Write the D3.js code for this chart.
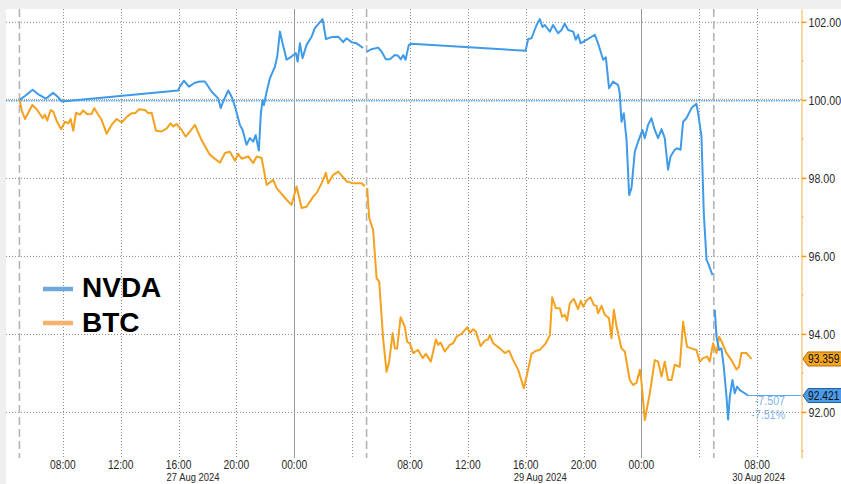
<!DOCTYPE html>
<html>
<head>
<meta charset="utf-8">
<script src="https://cdn.jsdelivr.net/npm/d3@7"></script>
<style>
  html, body { margin: 0; padding: 0; background: #efefef; overflow: hidden; }
  svg { display: block; }
</style>
</head>
<body>
<div id="chart"></div>
<script>
// Times are hours counted from 27 Aug 2024 00:00.
// The chart skips 28 Aug 05:00 -> 29 Aug 05:00, so hours 29 and 53 sit on the same x.
// A null value breaks the line.
var nvdaTimes = [5.00, 5.38, 5.91, 6.28, 6.83, 7.32, 7.59, 7.94, 15.96, 16.09, 16.37, 16.72, 17.13, 17.48, 17.82,
  18.29, 18.74, 18.91, 19.09, 19.43, 19.67, 19.90, 20.24, 20.43, 20.70, 20.93, 21.16, 21.33, 21.55, 21.69, 21.81, 21.90,
  22.09, 22.32, 22.66, 22.82, 23.01, 23.19, 23.47, 23.81, 24.11, 24.23, 24.39, 24.57, 24.85, 25.20, 25.42, 25.96,
  26.19, 26.58, 27.04, 27.38, 27.62, 27.96, 28.31, 28.76,
  29,
  53.02, 53.34, 53.80, 54.03, 54.33, 54.61, 54.95, 55.18, 55.37, 55.53, 55.69, 55.92, 56.11,
  63.99, 64.17, 64.40, 64.75, 64.97, 65.16, 65.32, 65.67, 65.89, 66.24, 66.47, 66.70, 66.93, 67.28, 67.46, 67.62, 67.79,
  68.20, 68.78, 69.00, 69.35, 69.54, 69.76, 70.04, 70.39, 70.50, 70.62, 70.78, 70.97, 71.15, 71.31, 71.54, 71.77,
  72.07, 72.23, 72.46, 72.69, 72.92, 73.15, 73.39, 73.61, 73.84, 74.01, 74.30, 74.46, 74.70,
  74.88, 75.11, 75.46, 75.80, 75.92, 76.15, 76.31, 76.50, 76.61, 76.91,
  77,
  77.07, 77.19, 77.37, 77.53, 77.69, 77.88, 77.99, 78.11, 78.29, 78.45, 78.61, 78.80, 79.14, 79.37];
var nvdaValues = [100.00, 100.10, 100.26, 100.15, 100.03, 100.18, 100.10, 99.96, 100.24, 100.34, 100.49, 100.34, 100.44, 100.47, 100.47,
  100.21, 100.04, 99.79, 99.96, 100.24, 100.08, 99.83, 99.36, 99.23, 98.85, 99.02, 98.93, 99.10, 98.70, 99.66, 100.00, 99.87,
  100.21, 100.56, 100.85, 101.11, 101.75, 101.45, 101.03, 101.11, 101.20, 100.98, 101.45, 101.07, 101.41, 101.62, 101.84, 102.07,
  101.56, 101.61, 101.62, 101.48, 101.58, 101.48, 101.45, 101.33,
  null,
  101.24, 101.30, 101.34, 101.24, 101.04, 101.04, 101.15, 101.13, 101.04, 101.15, 101.03, 101.41, 101.44,
  101.26, 101.56, 101.58, 101.92, 102.07, 101.87, 101.92, 101.75, 101.92, 101.71, 101.79, 101.95, 101.79, 101.75, 101.54, 101.67, 101.45,
  101.54, 101.67, 101.45, 101.03, 101.09, 100.30, 100.47, 100.38, 100.17, 99.44, 99.66, 98.97, 97.56, 97.74, 98.67, 98.93,
  99.23, 99.02, 99.36, 99.53, 99.23, 99.02, 99.25, 99.02, 98.21, 98.55, 98.72, 98.76, 98.72,
  99.44, 99.53, 99.79, 99.90, 99.66, 99.06, 97.09, 95.90, 95.81, 95.51,
  null,
  94.62, 93.93, 93.59, 93.63, 93.16, 92.39, 91.81, 92.39, 92.82, 92.48, 92.65, 92.56, 92.48, 92.421];

var btcTimes = [5.00, 5.15, 5.38, 5.89, 6.19, 6.61, 6.76, 6.92, 7.16, 7.34, 7.57, 7.89,
  8.15, 8.38, 8.54, 8.72, 8.91, 9.18, 9.41, 9.69, 9.99, 10.17, 10.41, 10.68,
  11.03, 11.37, 11.72, 12.07, 12.41, 12.76, 12.99, 13.28, 13.68, 13.90, 14.14, 14.44,
  14.83, 15.18, 15.45, 15.63, 15.87, 16.21, 16.49, 16.79, 17.13, 17.59, 18.17, 18.86,
  19.21, 19.55, 19.90, 20.12, 20.36, 20.82, 21.16, 21.40, 21.74, 22.09, 22.54, 22.78,
  23.47, 23.81, 24.16, 24.51, 24.85, 25.31, 25.54, 25.89, 26.19, 26.34, 26.69, 27.04,
  27.62, 28.07, 28.65, 28.88,
  29,
  53.04, 53.18, 53.45, 53.69, 53.87, 54.15, 54.38, 54.56, 54.80, 54.95, 55.11, 55.35,
  55.64, 55.80, 55.99, 56.22, 56.56, 56.87, 57.10, 57.44, 57.79, 57.95, 58.11, 58.41,
  58.75, 58.98, 59.22, 59.56, 59.95, 60.14, 60.37, 60.55, 60.88, 61.17, 61.40, 61.52,
  61.75, 62.21, 62.56, 62.85, 63.13, 63.48, 63.87, 64.06, 64.40, 64.70, 64.97, 65.39,
  65.67, 65.83, 66.08, 66.36, 66.52, 66.70, 66.86, 67.05, 67.32, 67.62, 67.81, 67.97,
  68.20, 68.48, 68.71, 68.89, 69.00, 69.24, 69.47, 69.76, 69.93, 70.09, 70.28, 70.62,
  70.85, 71.19, 71.42, 71.66, 71.89, 72.00, 72.23, 72.58, 72.92, 73.15, 73.39, 73.61,
  73.84, 74.08, 74.30, 74.65, 74.88, 75.15, 75.46, 75.80, 76.03, 76.26, 76.54, 76.72,
  76.95, 77.19, 77.37, 77.60, 77.88, 78.22, 78.57, 78.75, 78.91, 79.26, 79.61];
var btcValues = [100.02, 99.74, 99.51, 99.87, 99.76, 99.53, 99.62, 99.47, 99.74, 99.70, 99.46, 99.25,
  99.44, 99.40, 99.51, 99.21, 99.67, 99.62, 99.73, 99.63, 99.64, 99.79, 99.64, 99.49,
  99.13, 99.36, 99.51, 99.42, 99.56, 99.66, 99.66, 99.76, 99.74, 99.66, 99.67, 99.21,
  99.19, 99.27, 99.40, 99.32, 99.38, 99.23, 99.06, 99.19, 99.36, 98.97, 98.59, 98.39,
  98.64, 98.67, 98.44, 98.62, 98.49, 98.55, 98.38, 98.55, 98.51, 97.82, 97.95, 97.74,
  97.44, 97.31, 97.78, 97.23, 97.26, 97.52, 97.61, 97.86, 98.13, 97.86, 98.08, 98.16,
  97.91, 97.86, 97.86, 97.79,
  null,
  97.74, 96.97, 96.67, 95.43, 95.34, 93.85, 93.03, 93.29, 94.02, 93.63, 93.63, 94.43,
  94.19, 93.80, 93.76, 93.51, 93.59, 93.38, 93.49, 93.29, 93.86, 93.72, 93.78, 93.55,
  93.72, 93.76, 93.93, 94.00, 94.17, 94.03, 94.12, 94.06, 93.69, 93.83, 93.86, 93.97,
  93.76, 93.63, 93.51, 93.57, 93.33, 93.08, 92.61, 92.91, 93.49, 93.57, 93.59, 93.76,
  93.97, 94.94, 94.66, 94.66, 94.44, 94.49, 94.34, 94.79, 94.90, 94.64, 94.85, 94.70,
  94.85, 94.94, 94.74, 94.72, 94.53, 94.72, 94.49, 94.40, 93.89, 94.62, 94.19, 93.63,
  93.55, 92.82, 92.69, 92.75, 93.08, 92.78, 91.79, 92.48, 93.33, 93.29, 92.91, 93.29,
  92.82, 92.82, 93.21, 93.16, 94.31, 93.67, 93.63, 93.59, 93.29, 93.38, 93.42, 93.29,
  93.76, 93.51, 93.93, 93.76, 93.51, 93.33, 93.09, 93.16, 93.51, 93.51, 93.359];

var yTicks = [92, 94, 96, 98, 100, 102];
var yMinorTicks = [91, 93, 95, 97, 99, 101];
var gridHours = [8, 12, 16, 20, 28, 56, 60, 64, 68, 76, 80];   // dotted
var midnightHours = [24, 72];                                   // solid
var sessionHours = [5, 29, 77];                                 // dashed
var tickHours = [8, 12, 16, 20, 24, 56, 60, 64, 68, 72, 80];
var tickLabels = ["08:00", "12:00", "16:00", "20:00", "00:00", "08:00", "12:00", "16:00", "20:00", "00:00", "08:00"];
var dateHours = [17, 65, 80.1];
var dateLabels = ["27 Aug 2024", "29 Aug 2024", "30 Aug 2024"];
var seriesNames = ["NVDA", "BTC"];
var nvdaChange = ["-7.507", "-7.51%"];

var nvdaColor = "#3f9ae8", btcColor = "#f4a11f";
var nvdaLegend = "#6fa8dc", btcLegend = "#f6b26b";
var font = "'Liberation Sans', Arial, sans-serif";
var squeeze = 0.82;   // narrow look for the small labels

var width = 841, height = 484;
var plot = { left: 6, top: 9, right: 801, bottom: 458 };
var breakX = 366.6;

// piecewise scale: the skipped day collapses onto one x position
var x = d3.scaleLinear()
    .domain([4.07, 29, 53, 83.03])
    .range([plot.left, breakX, breakX, plot.right]);

var y = d3.scaleLinear()
    .domain([90.82, 102.33])
    .range([plot.bottom, plot.top]);

var svg = d3.select("#chart").append("svg")
    .attr("width", width)
    .attr("height", height);

// small squeezed label; anchor at (px, py)
function label(parent, px, py, txt, anchor, color, size) {
    return parent.append("text")
        .attr("transform", `translate(${px}, ${py}) scale(${squeeze}, 1)`)
        .attr("text-anchor", anchor)
        .attr("font-family", font)
        .attr("font-size", size || 13)
        .attr("fill", color || "#2a2a2a")
        .text(txt);
}

// white panel
svg.append("rect")
    .attr("x", plot.left).attr("y", plot.top)
    .attr("width", width - plot.left).attr("height", height - plot.top)
    .attr("fill", "#fff");

// horizontal grid
svg.append("g").selectAll("line")
    .data(yTicks.filter(d => d !== 100))
    .join("line")
    .attr("x1", plot.left).attr("x2", plot.right)
    .attr("y1", d => y(d) + 0.5).attr("y2", d => y(d) + 0.5)
    .attr("stroke", "#8c8c8c")
    .attr("stroke-dasharray", "1,2");

// 100 base line
svg.append("line")
    .attr("x1", plot.left).attr("x2", plot.right)
    .attr("y1", y(100) - 0.5).attr("y2", y(100) - 0.5)
    .attr("stroke", "#9a9a9a").attr("stroke-dasharray", "1,1");
svg.append("line")
    .attr("x1", plot.left).attr("x2", plot.right)
    .attr("y1", y(100) + 0.8).attr("y2", y(100) + 0.8)
    .attr("stroke", "#5aa6ea").attr("stroke-width", 1.4).attr("stroke-dasharray", "1.5,1");

// vertical grid
svg.append("g").selectAll("line")
    .data(gridHours)
    .join("line")
    .attr("x1", d => Math.round(x(d)) + 0.5).attr("x2", d => Math.round(x(d)) + 0.5)
    .attr("y1", plot.top).attr("y2", plot.bottom)
    .attr("stroke", "#8c8c8c")
    .attr("stroke-dasharray", "1,2");

svg.append("g").selectAll("line")
    .data(midnightHours)
    .join("line")
    .attr("x1", d => Math.round(x(d)) + 0.5).attr("x2", d => Math.round(x(d)) + 0.5)
    .attr("y1", plot.top).attr("y2", plot.bottom)
    .attr("stroke", "#9a9a9a");

svg.append("g").selectAll("line")
    .data(sessionHours)
    .join("line")
    .attr("x1", d => x(d)).attr("x2", d => x(d))
    .attr("y1", plot.top).attr("y2", plot.bottom)
    .attr("stroke", "#b4b4b4")
    .attr("stroke-width", 1.6)
    .attr("stroke-dasharray", "8,4");

// x labels
var xLabels = svg.append("g");
tickHours.forEach(function (h, i) {
    label(xLabels, x(h), 468.5, tickLabels[i], "middle", null, 12.5);
});
dateHours.forEach(function (h, i) {
    label(xLabels, x(h), 481.3, dateLabels[i], "middle", null, 11.5);
});

// series
var line = d3.line()
    .defined(d => d[1] != null)
    .x(d => x(d[0]))
    .y(d => y(d[1]));

svg.append("path")
    .datum(d3.zip(btcTimes, btcValues))
    .attr("fill", "none")
    .attr("stroke", btcColor)
    .attr("stroke-width", 2)
    .attr("stroke-linejoin", "round")
    .attr("d", line);

svg.append("path")
    .datum(d3.zip(nvdaTimes, nvdaValues))
    .attr("fill", "none")
    .attr("stroke", nvdaColor)
    .attr("stroke-width", 2)
    .attr("stroke-linejoin", "round")
    .attr("d", line);

// right axis
var yAxis = svg.append("g")
    .attr("transform", `translate(${plot.right + 0.5}, 0)`)
    .call(d3.axisRight(y).tickValues(yTicks).tickFormat(d3.format(".2f")).tickSize(5).tickSizeOuter(0));
yAxis.select(".domain").attr("stroke", "#f5b041");
yAxis.selectAll(".tick line").attr("stroke", "#f39c12").attr("stroke-width", 1.5);
yAxis.selectAll(".tick text")
    .attr("x", null)
    .attr("transform", `translate(7, 0) scale(${squeeze}, 1)`)
    .attr("font-family", font)
    .attr("font-size", 13)
    .attr("fill", "#2a2a2a");
yAxis.selectAll(".minor")
    .data(yMinorTicks)
    .join("line")
    .attr("class", "minor")
    .attr("x1", 0).attr("x2", 2)
    .attr("y1", d => y(d)).attr("y2", d => y(d))
    .attr("stroke", "#f5b041");

// last value marker for NVDA
var nvdaLastT = nvdaTimes[nvdaTimes.length - 1];
var nvdaLast = nvdaValues[nvdaValues.length - 1];
var btcLast = btcValues[btcValues.length - 1];

svg.append("line")
    .attr("x1", x(nvdaLastT)).attr("x2", plot.right)
    .attr("y1", y(nvdaLast)).attr("y2", y(nvdaLast))
    .attr("stroke", "#5aa6ea").attr("stroke-width", 1);

var changeLabels = svg.append("g");
nvdaChange.forEach(function (t, i) {
    label(changeLabels, 785, y(nvdaLast) + 9.5 + i * 14, t, "end", "#7db4ea");
});

// value tags on the axis
function tag(value, fill, stroke) {
    var g = svg.append("g").attr("transform", `translate(${plot.right + 1}, ${y(value)})`);
    g.append("path")
        .attr("d", "M1,0 L6,-7 L46,-7 L46,7 L6,7 Z")
        .attr("fill", fill)
        .attr("stroke", stroke)
        .attr("stroke-width", 1);
    label(g, 6, 4.3, d3.format(".3f")(value), "start", "#111", 12.5);
}
tag(btcLast, "#f5a623", "#b26b00");
tag(nvdaLast, "#4a9be8", "#1d5f9e");

// legend
var legend = svg.append("g");
[nvdaLegend, btcLegend].forEach(function (c, i) {
    legend.append("line")
        .attr("x1", 43).attr("x2", 73)
        .attr("y1", 289 + i * 34).attr("y2", 289 + i * 34)
        .attr("stroke", c)
        .attr("stroke-width", 4.5);
    legend.append("text")
        .attr("x", 82)
        .attr("y", 297 + i * 35)
        .attr("font-family", font)
        .attr("font-weight", "bold")
        .attr("font-size", 28)
        .attr("fill", "#000")
        .text(seriesNames[i]);
});
</script>
</body>
</html>
